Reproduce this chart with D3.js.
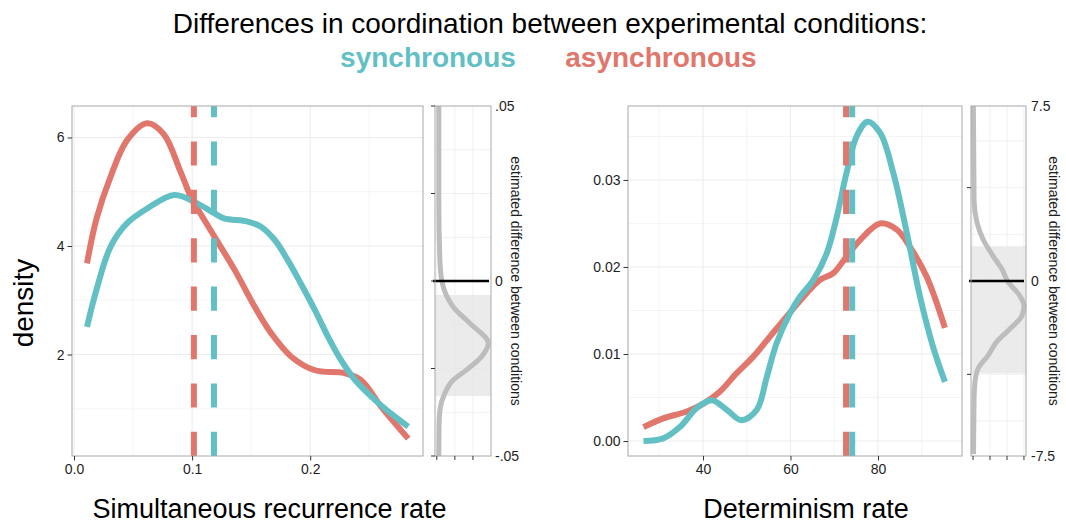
<!DOCTYPE html>
<html>
<head>
<meta charset="utf-8">
<script src="https://cdn.jsdelivr.net/npm/d3@7"></script>
<style>
  body { margin: 0; background: #fff; }
  svg { font-family: "Liberation Sans", Arial, Helvetica, sans-serif; }
</style>
</head>
<body>
<svg id="chart" width="1066" height="527"></svg>
<script>
// ---- DATA ----
const colSync = "#62bfc4", colAsync = "#e1766c";

// simultaneous recurrence rate densities
const recAsyncX = [0.011, 0.019, 0.031, 0.045, 0.062, 0.076, 0.090, 0.100, 0.107, 0.119, 0.136, 0.153, 0.167, 0.184, 0.204, 0.229, 0.243, 0.260, 0.283];
const recAsyncY = [3.68, 4.50, 5.28, 5.95, 6.26, 6.06, 5.38, 4.85, 4.60, 4.17, 3.56, 2.88, 2.39, 1.96, 1.71, 1.66, 1.53, 1.04, 0.45];
const recSyncX = [0.011, 0.019, 0.031, 0.045, 0.062, 0.085, 0.104, 0.119, 0.127, 0.147, 0.158, 0.170, 0.181, 0.192, 0.204, 0.215, 0.226, 0.238, 0.255, 0.272, 0.283];
const recSyncY = [2.51, 3.19, 3.99, 4.42, 4.69, 4.94, 4.79, 4.60, 4.51, 4.45, 4.36, 4.11, 3.74, 3.31, 2.82, 2.33, 1.90, 1.53, 1.16, 0.85, 0.67];
const recMeans = { async: 0.1015, sync: 0.1185 };

// determinism rate densities
const detAsyncX = [26.4, 30.9, 36.3, 40.1, 43.9, 47.7, 51.5, 55.3, 59.1, 63.7, 66.7, 69.8, 72.8, 75.9, 80.5, 84.3, 87.3, 91.1, 95.3];
const detAsyncY = [0.0016, 0.0026, 0.0034, 0.0043, 0.0057, 0.0078, 0.0097, 0.0120, 0.0143, 0.0170, 0.0185, 0.0193, 0.0212, 0.0231, 0.0250, 0.0243, 0.0223, 0.0189, 0.0130];
const detSyncX = [26.4, 30.9, 34.7, 38.6, 42.0, 45.4, 48.8, 52.3, 54.6, 56.8, 59.9, 62.2, 65.2, 68.3, 70.6, 72.8, 75.1, 77.6, 80.5, 83.5, 86.6, 89.6, 92.6, 95.3];
const detSyncY = [0.0000, 0.0003, 0.0016, 0.0038, 0.0047, 0.0036, 0.0024, 0.0036, 0.0074, 0.0112, 0.0147, 0.0166, 0.0185, 0.0216, 0.0258, 0.0308, 0.0350, 0.0367, 0.0354, 0.0308, 0.0239, 0.0166, 0.0108, 0.0068];
const detMeans = { async: 72.7, sync: 74.1 };

// posterior of the difference (value on y, density on x)
const recDiffV = [0.05, 0.023, 0.006, 0, -0.004, -0.0074, -0.0121, -0.0178, -0.0216, -0.0254, -0.0283, -0.0321, -0.0369, -0.042, -0.05];
const recDiffD = [1.1, 1.1, 1.7, 2.8, 5.2, 9.1, 18.3, 28.5, 24.8, 16.5, 9.1, 4.4, 1.7, 1.2, 1.1];
const recDiffBand = [-0.0329, -0.004];
const recDiffTicks = [0.05, 0, -0.05], recDiffLabels = [".05", "0", "-.05"];

const detDiffV = [7.5, 3.49, 2.51, 1.79, 1.07, 0.51, -0.04, -0.64, -1.07, -1.49, -2.05, -2.6, -3.2, -3.75, -4.3, -5.03, -7.42];
const detDiffD = [0.2, 0.6, 2.3, 5.9, 11.8, 17, 20.6, 27.6, 30, 28.8, 21.8, 14, 8.8, 3, 1.2, 0.6, 0.3];
const detDiffBand = [-3.96, 1.49];
const detDiffTicks = [7.5, 0, -7.5], detDiffLabels = ["7.5", "0", "-7.5"];

const svg = d3.select("#chart");
const gridCol = "#ececec", borderCol = "#a8a8a8", textCol = "#1e1e1e";

// ---- MAIN DENSITY PANEL ----
function drawPanel(cfg) {
  const x = d3.scaleLinear().domain(cfg.xDomain).range([cfg.left, cfg.right]);
  const y = d3.scaleLinear().domain(cfg.yDomain).range([cfg.bottom, cfg.top]);
  const g = svg.append("g");

  // grid: minor then major
  g.selectAll(".vminor").data(cfg.xMinor).enter().append("line")
    .attr("x1", d => x(d)).attr("x2", d => x(d)).attr("y1", cfg.top).attr("y2", cfg.bottom)
    .attr("stroke", gridCol).attr("stroke-width", 0.6);
  g.selectAll(".hminor").data(cfg.yMinor).enter().append("line")
    .attr("y1", d => y(d)).attr("y2", d => y(d)).attr("x1", cfg.left).attr("x2", cfg.right)
    .attr("stroke", gridCol).attr("stroke-width", 0.6);
  g.selectAll(".vmajor").data(cfg.xTicks).enter().append("line")
    .attr("x1", d => x(d)).attr("x2", d => x(d)).attr("y1", cfg.top).attr("y2", cfg.bottom)
    .attr("stroke", gridCol).attr("stroke-width", 1.1);
  g.selectAll(".hmajor").data(cfg.yTicks).enter().append("line")
    .attr("y1", d => y(d)).attr("y2", d => y(d)).attr("x1", cfg.left).attr("x2", cfg.right)
    .attr("stroke", gridCol).attr("stroke-width", 1.1);

  // density curves
  const line = d3.line().x(d => x(d[0])).y(d => y(d[1])).curve(d3.curveCatmullRom.alpha(0.5));
  cfg.series.forEach(s => {
    g.append("path")
      .datum(s.xs.map((v, i) => [v, s.ys[i]]))
      .attr("d", line)
      .attr("fill", "none")
      .attr("stroke", s.color)
      .attr("stroke-width", 6);
  });

  // mean lines (dashed, drawn from the bottom up)
  cfg.means.forEach(m => {
    g.append("line")
      .attr("x1", x(m.value)).attr("x2", x(m.value))
      .attr("y1", cfg.bottom).attr("y2", cfg.top)
      .attr("stroke", m.color).attr("stroke-width", 6)
      .attr("stroke-dasharray", "24.2 24.2");
  });

  g.append("rect")
    .attr("x", cfg.left).attr("y", cfg.top)
    .attr("width", cfg.right - cfg.left).attr("height", cfg.bottom - cfg.top)
    .attr("fill", "none").attr("stroke", borderCol).attr("stroke-width", 1);

  // axes
  const xAxis = d3.axisBottom(x).tickValues(cfg.xTicks).tickFormat(cfg.xFormat).tickSize(4.5).tickPadding(4);
  const yAxis = d3.axisLeft(y).tickValues(cfg.yTicks).tickFormat(cfg.yFormat).tickSize(4.5).tickPadding(3);
  const gx = g.append("g").attr("transform", `translate(0,${cfg.bottom})`).call(xAxis);
  const gy = g.append("g").attr("transform", `translate(${cfg.left},0)`).call(yAxis);
  [gx, gy].forEach(a => {
    a.select(".domain").remove();
    a.selectAll(".tick line").attr("stroke", "#333");
    a.selectAll(".tick text").attr("fill", textCol).style("font-size", "14px")
      .style("font-family", '"Liberation Sans", Arial, sans-serif');
  });

  g.append("text")
    .attr("x", (cfg.left + cfg.right) / 2 + cfg.titleShift).attr("y", 518)
    .attr("text-anchor", "middle").style("font-size", "27px").attr("fill", "#000")
    .text(cfg.xTitle);
}

// ---- SIDE PANEL (difference posterior) ----
function drawSide(cfg) {
  const x = d3.scaleLinear().domain(cfg.dDomain).range([cfg.left, cfg.right]);
  const y = d3.scaleLinear().domain(cfg.vDomain).range([cfg.bottom, cfg.top]);
  const g = svg.append("g");

  g.selectAll(".hgrid").data(cfg.hGrid).enter().append("line")
    .attr("y1", d => y(d)).attr("y2", d => y(d)).attr("x1", cfg.left).attr("x2", cfg.right)
    .attr("stroke", gridCol).attr("stroke-width", 0.8);
  g.selectAll(".vgrid").data(cfg.dTicks).enter().append("line")
    .attr("x1", d => x(d)).attr("x2", d => x(d)).attr("y1", cfg.top).attr("y2", cfg.bottom)
    .attr("stroke", gridCol).attr("stroke-width", 0.8);

  g.append("rect")
    .attr("x", cfg.left).attr("width", cfg.right - cfg.left)
    .attr("y", y(cfg.band[1])).attr("height", y(cfg.band[0]) - y(cfg.band[1]))
    .attr("fill", "#e6e6e6").attr("opacity", 0.8);

  const line = d3.line().x(d => x(d[1])).y(d => y(d[0])).curve(d3.curveMonotoneY);
  g.append("path")
    .datum(cfg.vs.map((v, i) => [v, cfg.ds[i]]))
    .attr("d", line)
    .attr("fill", "none").attr("stroke", "#bdbdbd").attr("stroke-width", 5);

  g.append("line")
    .attr("x1", cfg.left - 2).attr("x2", cfg.right - 2)
    .attr("y1", y(0)).attr("y2", y(0))
    .attr("stroke", "#000").attr("stroke-width", 2.5);

  g.append("rect")
    .attr("x", cfg.left).attr("y", cfg.top)
    .attr("width", cfg.right - cfg.left).attr("height", cfg.bottom - cfg.top)
    .attr("fill", "none").attr("stroke", borderCol).attr("stroke-width", 1);

  // small unlabelled ticks on left and bottom
  g.selectAll(".lt").data(cfg.leftTicks).enter().append("line")
    .attr("x1", cfg.left - 4).attr("x2", cfg.left).attr("y1", d => y(d)).attr("y2", d => y(d))
    .attr("stroke", "#333");
  g.selectAll(".bt").data(cfg.dTicks).enter().append("line")
    .attr("x1", d => x(d)).attr("x2", d => x(d)).attr("y1", cfg.bottom).attr("y2", cfg.bottom + 4)
    .attr("stroke", "#333");

  g.selectAll(".lab").data(cfg.vTicks).enter().append("text")
    .attr("x", cfg.labelX).attr("y", d => y(d)).attr("dy", "0.35em")
    .style("font-size", "14px").attr("fill", textCol)
    .text((d, i) => cfg.vLabels[i]);

  g.append("text")
    .attr("transform", `translate(${cfg.titleX},${(cfg.top + cfg.bottom) / 2}) rotate(90)`)
    .attr("text-anchor", "middle").style("font-size", "14px").attr("fill", textCol)
    .text("estimated difference between conditions");
}

// ---- TITLES ----
svg.append("text").attr("x", 550).attr("y", 33).attr("text-anchor", "middle")
  .style("font-size", "28px").attr("fill", "#000")
  .text("Differences in coordination between experimental conditions:");
svg.append("text").attr("x", 428).attr("y", 67).attr("text-anchor", "middle")
  .style("font-size", "28px").style("font-weight", "bold").attr("fill", colSync).text("synchronous");
svg.append("text").attr("x", 661).attr("y", 67).attr("text-anchor", "middle")
  .style("font-size", "28px").style("font-weight", "bold").attr("fill", colAsync).text("asynchronous");
svg.append("text").attr("transform", "translate(33,303) rotate(-90)").attr("text-anchor", "middle")
  .style("font-size", "28px").attr("fill", "#000").text("density");

drawPanel({
  left: 72, right: 423, top: 106, bottom: 456,
  xDomain: [-0.0017, 0.2955], yDomain: [0.13, 6.58],
  xTicks: [0, 0.1, 0.2], xMinor: [0.05, 0.15, 0.25],
  yTicks: [2, 4, 6], yMinor: [1, 3, 5],
  xFormat: d3.format(".1f"), yFormat: d3.format("d"),
  series: [
    { xs: recAsyncX, ys: recAsyncY, color: colAsync },
    { xs: recSyncX, ys: recSyncY, color: colSync }
  ],
  means: [
    { value: recMeans.async, color: colAsync },
    { value: recMeans.sync, color: colSync }
  ],
  xTitle: "Simultaneous recurrence rate", titleShift: 22
});

drawSide({
  left: 435, right: 491, top: 106, bottom: 456,
  dDomain: [-1, 30], vDomain: [-0.05, 0.05],
  dTicks: [0, 10, 20], leftTicks: [0.05, 0.025, 0, -0.025, -0.05],
  hGrid: [0.0375, 0.025, 0.0125, -0.0125, -0.025, -0.0375],
  vs: recDiffV, ds: recDiffD, band: recDiffBand,
  vTicks: recDiffTicks, vLabels: recDiffLabels,
  labelX: 495, titleX: 511
});

drawPanel({
  left: 628, right: 962, top: 106, bottom: 456,
  xDomain: [22.86, 99.2], yDomain: [-0.00172, 0.0385],
  xTicks: [40, 60, 80], xMinor: [30, 50, 70, 90],
  yTicks: [0, 0.01, 0.02, 0.03], yMinor: [0.005, 0.015, 0.025, 0.035],
  xFormat: d3.format("d"), yFormat: d3.format(".2f"),
  series: [
    { xs: detAsyncX, ys: detAsyncY, color: colAsync },
    { xs: detSyncX, ys: detSyncY, color: colSync }
  ],
  means: [
    { value: detMeans.async, color: colAsync },
    { value: detMeans.sync, color: colSync }
  ],
  xTitle: "Determinism rate", titleShift: 11
});

drawSide({
  left: 971, right: 1026, top: 106, bottom: 456,
  dDomain: [-1.2, 31.2], vDomain: [-7.5, 7.5],
  dTicks: [0, 10, 20, 30], leftTicks: [4, -4],
  hGrid: [6, 4, 2, -2, -4, -6],
  vs: detDiffV, ds: detDiffD, band: detDiffBand,
  vTicks: detDiffTicks, vLabels: detDiffLabels,
  labelX: 1031, titleX: 1049
});
</script>
</body>
</html>
